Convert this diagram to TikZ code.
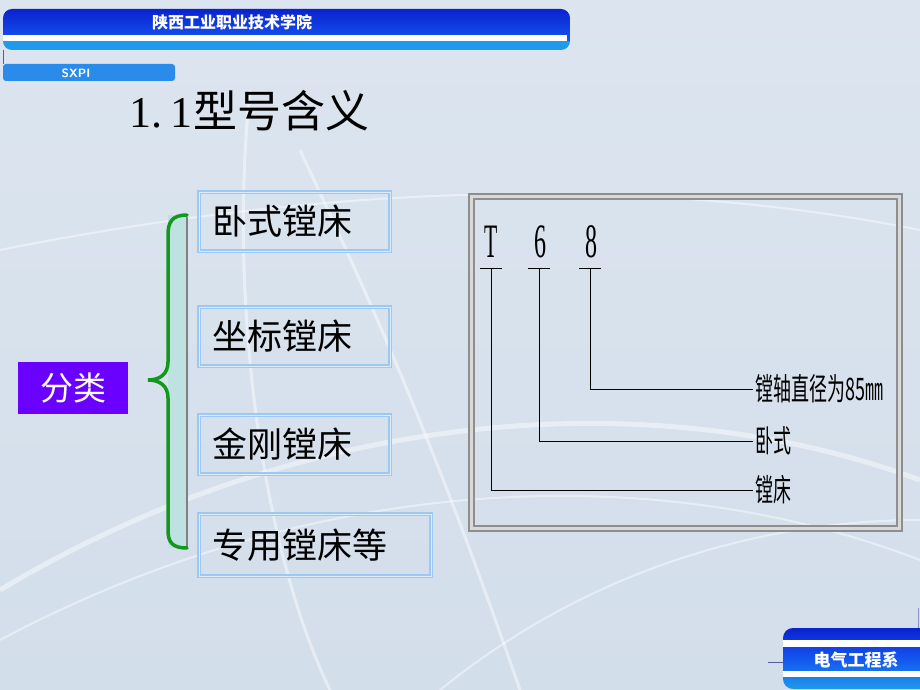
\documentclass[tikz,border=0pt]{standalone}
\usepackage{fontspec}
\usepackage{graphicx}
\newfontfamily\cjk{Noto Sans CJK SC}
\newfontfamily\serifnum{Liberation Serif}
\definecolor{bgblue}{HTML}{D3DEEB}
\definecolor{bgtop}{HTML}{DCE5EF}
\definecolor{bannerdark}{HTML}{0A22D0}
\definecolor{bannermid}{HTML}{1455F0}
\definecolor{bannerlight}{HTML}{1E9BEA}
\definecolor{sxpiblue}{HTML}{2A8BEA}
\definecolor{boxline}{HTML}{9CC9F3}
\definecolor{bracegreen}{HTML}{12991C}
\definecolor{bracefill}{HTML}{BEE1E1}
\definecolor{purplebox}{HTML}{6A00FF}
\definecolor{framegray}{HTML}{8E8E8E}

\begin{document}
\begin{tikzpicture}[x=1pt,y=-1pt,
	swirl/.style={white,opacity=0.45,line width=3pt},
	kindbox/.style={draw=boxline,line width=1.6pt,double=boxline!35,double distance=1pt,
		inner xsep=13pt,align=left,minimum height=59pt,
		font=\cjk\fontsize{35}{35}\selectfont},
	codechar/.style={font=\serifnum\fontsize{48}{48}\selectfont,inner sep=0pt},
	meaning/.style={anchor=west,inner sep=2pt,font=\cjk\fontsize{31}{31}\selectfont}]
	\shade[top color=bgtop,bottom color=bgblue] (0,0) rectangle (920,690);
	\useasboundingbox (0,0) rectangle (920,690);
	\draw[swirl] (250,90) .. controls (228,300) and (262,550) .. (330,690);
	\draw[swirl] (300,150) .. controls (370,300) and (430,430) .. (520,690);
	\draw[swirl,line width=2pt] (0,250) .. controls (300,190) and (620,170) .. (920,230);
	\draw[swirl,line width=5pt] (0,590) .. controls (300,410) and (650,380) .. (920,480);
	\draw[swirl,line width=2pt] (0,640) .. controls (320,470) and (660,460) .. (920,560);
	\draw[swirl,line width=2pt] (440,690) .. controls (600,560) and (780,520) .. (920,520);
	\begin{scope}
		\clip[rounded corners=9pt] (3,9) rectangle (570,50);
		\shade[top color=bannerdark,bottom color=bannermid] (3,9) rectangle (570,41);
		\fill[bannerlight] (3,41) rectangle (570,50);
		\fill[white] (3,35) rectangle (567,41);
	\end{scope}
	\node[text=white,font=\cjk\bfseries\fontsize{16}{16}\selectfont] (school) at (232,22) {陕西工业职业技术学院};
	\draw[gray!70!blue,thin] (3,50) -- (3,64);
	\fill[sxpiblue,rounded corners=3pt] (3,64) rectangle (175,81);
	\node[text=white,font=\sffamily\bfseries\fontsize{12}{12}\selectfont] (sxpi) at (76,73) {SXPI};
	\node[anchor=west,font=\cjk\fontsize{44}{44}\selectfont] (title) at (126,111) {{\serifnum 1.\hspace{8pt}1}\hspace{1pt}型号含义};
	\node[fill=purplebox,text=white,minimum width=110pt,minimum height=52pt,
		font=\cjk\fontsize{33}{33}\selectfont] (fenlei) at (73,388) {分类};
	\fill[bracefill] (168,215) rectangle (187,548);
	\draw[gray,line width=1.2pt] (187,217) -- (187,548);
	\draw[bracegreen,line width=3.5pt,line cap=round] (187,215) .. controls (172,215) and (168,222) .. (168,235)
		-- (168,362) .. controls (168,374) and (160,380) .. (148,380)
		.. controls (160,380) and (168,386) .. (168,398) -- (168,530)
		.. controls (168,542) and (172,548) .. (187,548);
	\node[kindbox,text width=165pt] (woshi) at (294.5,221.5) {卧式镗床};
	\node[kindbox,text width=165pt] (zuobiao) at (294.5,336.5) {坐标镗床};
	\node[kindbox,text width=165pt] (jingang) at (294.5,444.5) {金刚镗床};
	\node[kindbox,text width=206pt,minimum height=62pt] (zhuanyong) at (315,545) {专用镗床等};
	\draw[framegray,line width=1.4pt,double=gray!30,double distance=3.5pt] (471.5,196.5) rectangle (899.5,528.5);
	\node[codechar] (codeT) at (491,242) {\scalebox{0.45}[1]{T}};
	\node[codechar] (code6) at (540,242) {\scalebox{0.5}[1]{6}};
	\node[codechar] (code8) at (591,242) {\scalebox{0.5}[1]{8}};
	\foreach \c/\x in {T/491,6/539,8/590}{
		\draw (\x-11,268) -- (\x+11,268);
		\coordinate (u\c) at (\x,268);
		}
	\node[meaning] (zhijing) at (753,389) {\scalebox{0.58}[1]{镗轴直径为85㎜}};
	\node[meaning] (shi) at (753,441) {\scalebox{0.58}[1]{卧式}};
	\node[meaning] (chuang) at (753,490) {\scalebox{0.58}[1]{镗床}};
	\draw (u8) |- (zhijing.west);
	\draw (u6) |- (shi.west);
	\draw (uT) |- (chuang.west);
	\begin{scope}
		\clip[rounded corners=10pt] (783,628) rectangle (930,689);
		\shade[top color=bannerdark,bottom color=bannerlight,middle color=bannermid] (783,628) rectangle (930,689);
		\fill[white] (783,640) rectangle (920,647);
		\fill[white] (783,671) rectangle (920,677);
	\end{scope}
	\draw[gray!70!blue,thin] (768,662) -- (783,662);
	\draw[gray!50!blue!60,thin] (918,608) -- (918,628);
	\node[text=white,font=\cjk\bfseries\fontsize{17}{17}\selectfont] (dept) at (856,660) {电气工程系};
\end{tikzpicture}
\end{document}
